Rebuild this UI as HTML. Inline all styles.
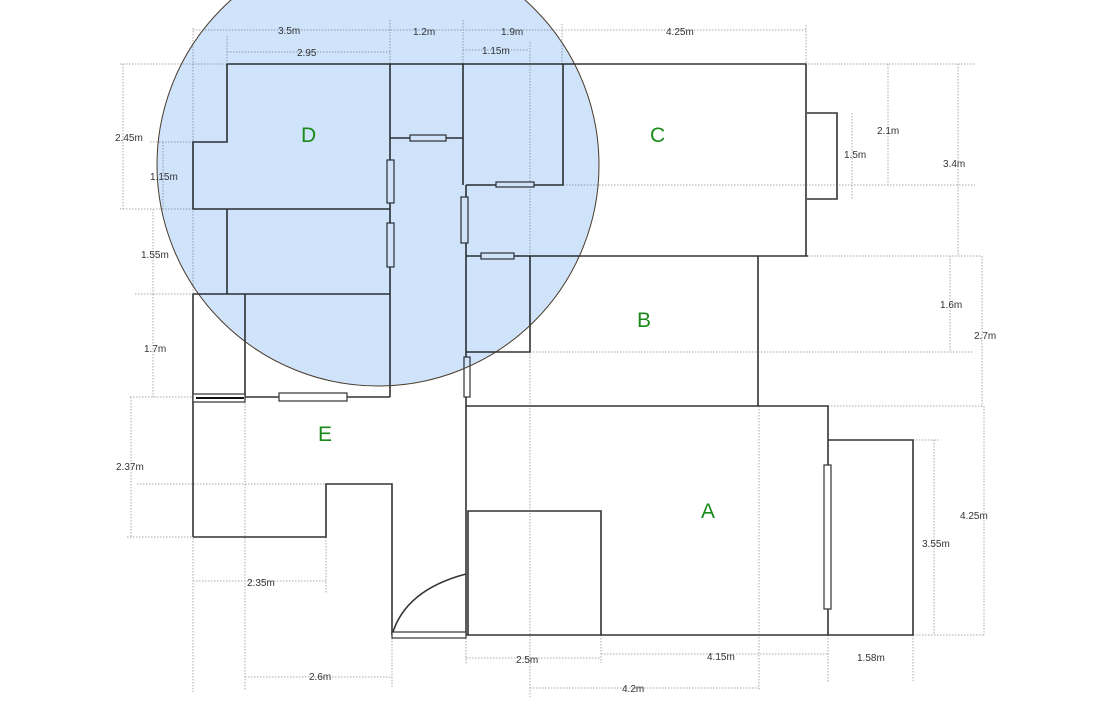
<!DOCTYPE html>
<html><head><meta charset="utf-8"><style>
html,body{margin:0;padding:0;background:#fff;}
svg{display:block;isolation:isolate;}
text{font-family:"Liberation Sans",sans-serif;}
.w{stroke:#333;stroke-width:1.6;fill:none;}
.win{stroke:#333;stroke-width:1.2;fill:#fff;}
.d{stroke:#aaa;stroke-width:1;stroke-dasharray:1.5,1.5;fill:none;}
.t{font-size:10px;fill:#333;}
.r{font-size:21px;fill:#1a8a1a;}
</style></head><body>
<svg width="1114" height="719" viewBox="0 0 1114 719" xmlns="http://www.w3.org/2000/svg">
<rect width="1114" height="719" fill="#fff"/>
<!-- dimension lines -->
<g class="d">
<path d="M193 30H806 M193 28V692 M390 20V64 M463 20V64 M562 24V64 M806 25V64"/>
<path d="M227 52H390 M227 36V64 M463 50H528 M530 42V697"/>
<path d="M123 64V209 M120 64H227 M120 209H193"/>
<path d="M163 142V209 M150 142H193"/>
<path d="M153 209V294 M135 294H193"/>
<path d="M153 294V397 M130 397H193"/>
<path d="M131 397V537 M127 537H193 M137 484H326"/>
<path d="M193 581H326 M326 537V594"/>
<path d="M245 677H392 M245 397V690 M392 635V687"/>
<path d="M466 635V665 M466 658H601 M601 635V663 M601 654H828"/>
<path d="M530 688H759 M759 406V690 M828 635V683 M913 635V681"/>
<path d="M852 113V199 M888 64V185 M958 64V256 M808 64H975 M563 185H975"/>
<path d="M808 256H982 M950 256V352 M530 352H973 M982 256V407 M828 406H983"/>
<path d="M984 406V635 M934 440V635 M913 440H940 M913 635H985"/>
</g>
<!-- walls -->
<g class="w">
<path d="M227 64H806 V256 M227 64V142H193V209H390"/>
<path d="M390 64V397 M463 64V185 M466 185V407"/>
<path d="M390 138H463 M563 64V185H466 M466 256H808"/>
<path d="M807 113H837V199H807"/>
<path d="M193 294H390 M227 209V294 M245 294V397 M193 294V537"/>
<path d="M193 397H390"/>
<path d="M530 256V352H466 M758 256V406 M466 406H828V635 M828 440H913V635H828"/>
<path d="M466 407V635H828 M468 635V511H601V635"/>
<path d="M193 537H326V484H392V635"/>
<path d="M392 635 Q405 590 466 574"/>
</g>
<!-- windows -->
<g class="win">
<rect x="410" y="135" width="36" height="6"/>
<rect x="496" y="182" width="38" height="5"/>
<rect x="387" y="160" width="7" height="43"/>
<rect x="387" y="223" width="7" height="44"/>
<rect x="461" y="197" width="7" height="46"/>
<rect x="481" y="253" width="33" height="6"/>
<rect x="464" y="357" width="6" height="40"/>
<rect x="279" y="393" width="68" height="8"/>
<rect x="193" y="394" width="52" height="8"/>
<rect x="824" y="465" width="7" height="144"/>
<rect x="392" y="632" width="74" height="6"/>
</g>
<line x1="196" y1="398" x2="244" y2="398" stroke="#111" stroke-width="2"/>
<!-- circle overlay -->
<circle cx="378" cy="165" r="221" fill="#cfe4fb" style="mix-blend-mode:multiply"/>
<circle cx="378" cy="165" r="221" fill="none" stroke="#4a3a2a" stroke-width="1"/>
<!-- labels -->
<g class="t">
<text x="278" y="34">3.5m</text>
<text x="413" y="35">1.2m</text>
<text x="501" y="35">1.9m</text>
<text x="666" y="35">4.25m</text>
<text x="297" y="56">2.95</text>
<text x="482" y="54">1.15m</text>
<text x="115" y="141">2.45m</text>
<text x="150" y="180">1.15m</text>
<text x="141" y="258">1.55m</text>
<text x="144" y="352">1.7m</text>
<text x="116" y="470">2.37m</text>
<text x="247" y="586">2.35m</text>
<text x="309" y="680">2.6m</text>
<text x="516" y="663">2.5m</text>
<text x="707" y="660">4.15m</text>
<text x="622" y="692">4.2m</text>
<text x="857" y="661">1.58m</text>
<text x="844" y="158">1.5m</text>
<text x="877" y="134">2.1m</text>
<text x="943" y="167">3.4m</text>
<text x="940" y="308">1.6m</text>
<text x="974" y="339">2.7m</text>
<text x="960" y="519">4.25m</text>
<text x="922" y="547">3.55m</text>
</g>
<g class="r">
<text x="301" y="142">D</text>
<text x="650" y="142">C</text>
<text x="637" y="327">B</text>
<text x="318" y="441">E</text>
<text x="701" y="518">A</text>
</g>
</svg>
</body></html>
